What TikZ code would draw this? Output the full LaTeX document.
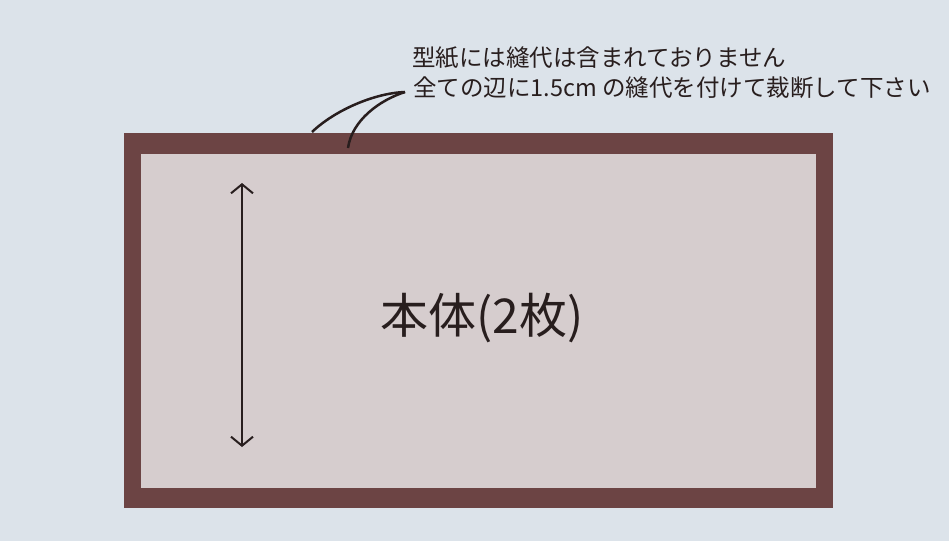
\documentclass[tikz,border=0pt]{standalone}
\usepackage{fontspec}
\newfontfamily\jpfont{Noto Sans CJK JP}
\usepackage{tikz}
\usetikzlibrary{arrows.meta,positioning}
\definecolor{bgblue}{RGB}{220,227,234}
\definecolor{clothbrown}{RGB}{108,68,68}
\definecolor{clothpaper}{RGB}{214,205,206}
\definecolor{inkline}{RGB}{40,30,30}
\tikzset{
   note/.style={font=\jpfont\fontsize{23.5}{27}\selectfont, text=inkline, inner sep=0pt, anchor=west},
   piece/.style={font=\jpfont\fontsize{48}{52}\selectfont, text=inkline},
   leader/.style={draw=inkline, line width=2.5pt},
   grain/.style={draw=inkline, line width=2pt,
                 {Straight Barb[length=9pt,width=22pt]}-{Straight Barb[length=9pt,width=22pt]}}
}
\begin{document}
\begin{tikzpicture}[x=1pt,y=-1pt]
  \fill[bgblue] (0,0) rectangle (949,541);
  \useasboundingbox (0,0) rectangle (949,541);
  \fill[clothbrown] (124,133) rectangle (833,508);
  \node[fill=clothpaper, minimum width=675pt, minimum height=334pt, inner sep=0pt, anchor=north west] (body) at (141,154) {};
  \node[piece] (label) at (482,318) {本体(2枚)};
  \node[note] (noteA) at (412,58) {型紙には縫代は含まれておりません};
  \node[note] (noteB) at (413,88) {全ての辺に1.5cm の縫代を付けて裁断して下さい};
  \coordinate (grainTop) at (242,183);
  \coordinate (grainBot) at (242,447);
  \coordinate (tip) at ([xshift=-8pt,yshift=-4pt]noteB.west);
  \coordinate (seamA) at (312,132);
  \coordinate (seamB) at (348,148);
  \draw[grain] (grainTop) -- (grainBot);
  \draw[leader] (tip) .. controls (375,93) and (335,110) .. (seamA);
  \draw[leader] (tip) .. controls (380,100) and (352,120) .. (seamB);
\end{tikzpicture}
\end{document}
